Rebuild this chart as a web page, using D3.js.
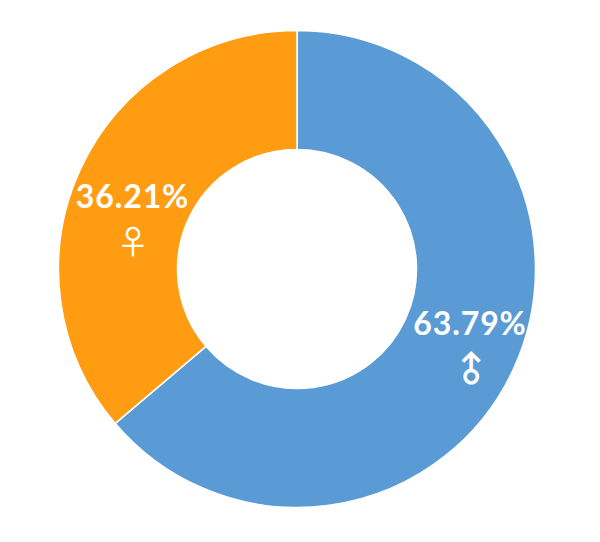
<!DOCTYPE html>
<html><head><meta charset="utf-8">
<script src="https://cdn.jsdelivr.net/npm/d3@7"></script>
<style>html,body{margin:0;background:#fff}svg{display:block}</style></head>
<body><svg width="600" height="542"></svg>
<script>
const categories = ["♂", "♀"];
const values = [63.79, 36.21];
const labels = ["63.79%", "36.21%"];
const colors = ["#5b9bd5", "#ff9c12"];
const svg = d3.select("svg");
const g = svg.append("g").attr("transform", "translate(297,269)");
const pie = d3.pie().sort(null)(values);
const arc = d3.arc().innerRadius(119.5).outerRadius(238.5);
g.selectAll("path").data(pie).join("path")
  .attr("d", arc).attr("fill", (d,i)=>colors[i])
  .attr("stroke", "#fff").attr("stroke-width", 1.5);
const lx = [470, 132.5], ly = [335, 208];
svg.selectAll("text.val").data(labels).join("text").attr("class","val")
  .attr("x",(d,i)=>lx[i]).attr("y",(d,i)=>ly[i]).attr("text-anchor","middle")
  .attr("fill","#fff").attr("font-family","Lato,sans-serif").attr("font-weight",700)
  .attr("font-size",32).attr("letter-spacing",0.9).text(d=>d);
const sx = [470, 133], sy = [368, 240], rot = [-45, 0], sw = [700, 400], fs = [34, 33];
svg.selectAll("text.sym").data(categories).join("text").attr("class","sym")
  .attr("transform",(d,i)=>`translate(${sx[i]},${sy[i]}) rotate(${rot[i]})`)
  .attr("text-anchor","middle").attr("dominant-baseline","central")
  .attr("fill","#fff").attr("font-family","'Noto Sans CJK SC','DejaVu Sans',sans-serif")
  .attr("font-weight",(d,i)=>sw[i]).attr("font-size",(d,i)=>fs[i]).text(d=>d);
</script></body></html>
